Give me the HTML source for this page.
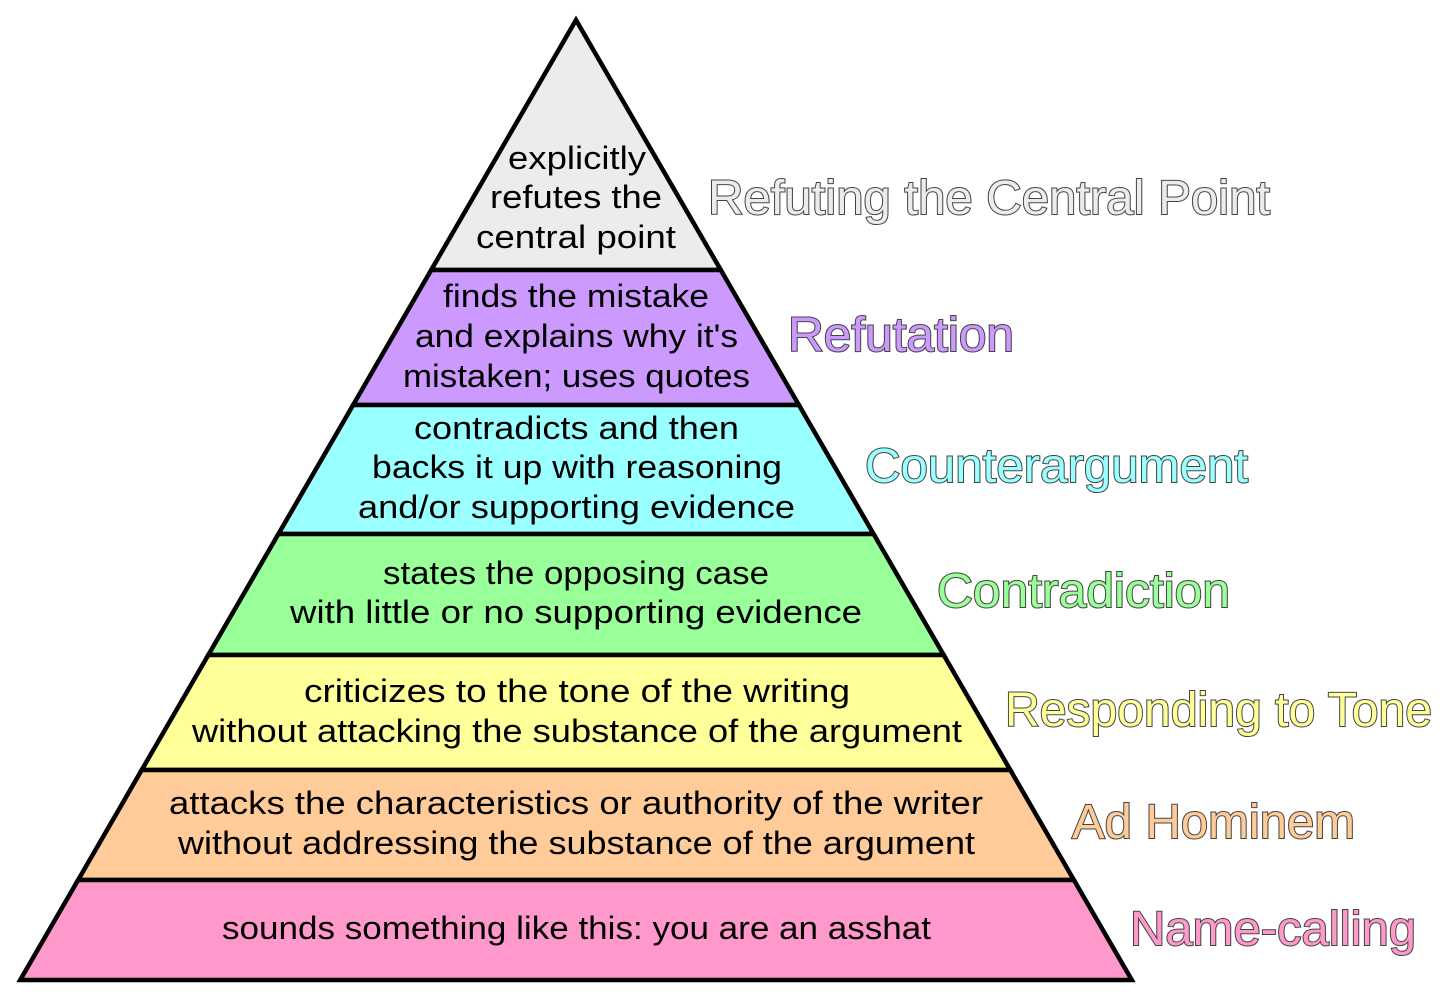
<!DOCTYPE html>
<html><head><meta charset="utf-8"><style>html,body{margin:0;padding:0;background:#fff}svg{display:block}</style></head>
<body>
<svg width="1449" height="1000" viewBox="0 0 1449 1000" xmlns="http://www.w3.org/2000/svg">
<g stroke="#000" stroke-width="4.5" stroke-linejoin="miter">
<polygon points="576,20 720.8,270 431.2,270" fill="#ececec"/>
<polygon points="431.2,270 720.8,270 798.9,405 353.1,405" fill="#cc99ff"/>
<polygon points="353.1,405 798.9,405 873.6,534 278.4,534" fill="#99ffff"/>
<polygon points="278.4,534 873.6,534 943.7,655 208.3,655" fill="#99ff99"/>
<polygon points="208.3,655 943.7,655 1010.3,770 141.7,770" fill="#ffff99"/>
<polygon points="141.7,770 1010.3,770 1073.9,880 78.1,880" fill="#ffcc99"/>
<polygon points="78.1,880 1073.9,880 1131.8,980 20.2,980" fill="#ff99cc"/>
</g>
<g font-family="Liberation Sans, sans-serif" font-size="32" fill="#000" lengthAdjust="spacingAndGlyphs">
<text x="508" y="169" textLength="138" lengthAdjust="spacingAndGlyphs">explicitly</text>
<text x="490" y="208" textLength="172" lengthAdjust="spacingAndGlyphs">refutes the</text>
<text x="476" y="248" textLength="200" lengthAdjust="spacingAndGlyphs">central point</text>
<text x="443" y="307" textLength="266" lengthAdjust="spacingAndGlyphs">finds the mistake</text>
<text x="415" y="347" textLength="323" lengthAdjust="spacingAndGlyphs">and explains why it's</text>
<text x="403" y="387" textLength="347" lengthAdjust="spacingAndGlyphs">mistaken; uses quotes</text>
<text x="414" y="439" textLength="325" lengthAdjust="spacingAndGlyphs">contradicts and then</text>
<text x="372" y="478" textLength="410" lengthAdjust="spacingAndGlyphs">backs it up with reasoning</text>
<text x="358" y="518" textLength="437" lengthAdjust="spacingAndGlyphs">and/or supporting evidence</text>
<text x="383" y="584" textLength="386" lengthAdjust="spacingAndGlyphs">states the opposing case</text>
<text x="290" y="623" textLength="572" lengthAdjust="spacingAndGlyphs">with little or no supporting evidence</text>
<text x="304" y="702" textLength="546" lengthAdjust="spacingAndGlyphs">criticizes to the tone of the writing</text>
<text x="192" y="742" textLength="770" lengthAdjust="spacingAndGlyphs">without attacking the substance of the argument</text>
<text x="169" y="814" textLength="814" lengthAdjust="spacingAndGlyphs">attacks the characteristics or authority of the writer</text>
<text x="178" y="854" textLength="797" lengthAdjust="spacingAndGlyphs">without addressing the substance of the argument</text>
<text x="222" y="939" textLength="709" lengthAdjust="spacingAndGlyphs">sounds something like this: you are an asshat</text>
</g>
<g font-family="Liberation Sans, sans-serif" font-size="48" stroke="#444" stroke-width="2" paint-order="stroke" style="paint-order:stroke">
<text x="708" y="214" textLength="562" lengthAdjust="spacingAndGlyphs" fill="#ececec">Refuting the Central Point</text>
<text x="788" y="351" textLength="226" lengthAdjust="spacingAndGlyphs" fill="#cc99ff">Refutation</text>
<text x="865" y="482" textLength="383" lengthAdjust="spacingAndGlyphs" fill="#99ffff">Counterargument</text>
<text x="937" y="607" textLength="293" lengthAdjust="spacingAndGlyphs" fill="#99ff99">Contradiction</text>
<text x="1005" y="726" textLength="427" lengthAdjust="spacingAndGlyphs" fill="#ffff99">Responding to Tone</text>
<text x="1072" y="838" textLength="283" lengthAdjust="spacingAndGlyphs" fill="#ffcc99">Ad Hominem</text>
<text x="1130" y="945" textLength="286" lengthAdjust="spacingAndGlyphs" fill="#ff99cc">Name-calling</text>
</g>
</svg>
</body></html>
